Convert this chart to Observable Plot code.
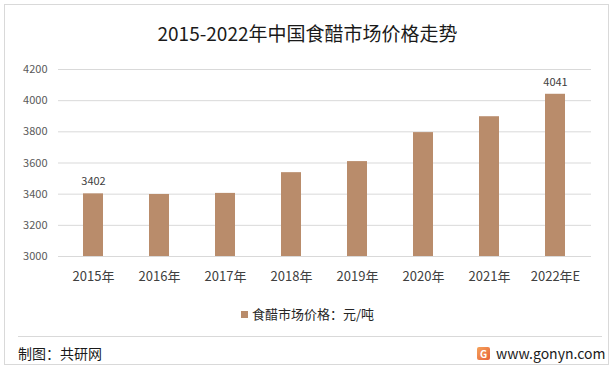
<!DOCTYPE html>
<html><head><meta charset="utf-8">
<script src="https://cdn.jsdelivr.net/npm/d3@7"></script>
<script src="https://cdn.jsdelivr.net/npm/@observablehq/plot@0.6"></script>
<style>
body{margin:0;background:#fff;font-family:"Noto Sans CJK SC","Noto Sans",sans-serif;}
#wrap{position:relative;width:615px;height:374px;overflow:hidden;background:#fff;}
#frame{position:absolute;left:4px;top:4px;width:605px;height:361px;border:1px solid #d9d9d9;box-sizing:border-box;}
#title{position:absolute;left:0;top:18px;width:615px;text-align:center;font-size:19px;color:#1a1a1a;line-height:30px;}
#chart{position:absolute;left:0;top:55px;}
#legend{position:absolute;left:0;top:304px;width:615px;text-align:center;font-size:13px;color:#262626;line-height:20px;}
#legend .sw{display:inline-block;width:7px;height:7px;background:#b98c6b;margin-right:4px;vertical-align:1px;}
#sep{position:absolute;left:18px;top:336px;width:584px;height:1px;background:#d9d9d9;}
#src{position:absolute;left:18px;top:343px;font-size:14px;color:#1a1a1a;line-height:20px;}
#site{position:absolute;left:477px;top:343px;font-size:14px;color:#1a1a1a;line-height:20px;display:flex;align-items:center;}
#logo{width:13px;height:13px;background:linear-gradient(135deg,#f5a25a,#e8633a);border-radius:2px;margin-right:6px;color:#fff;font-size:10px;font-weight:bold;text-align:center;line-height:13px;}
</style></head>
<body>
<div id="wrap">
  <div id="frame"></div>
  <div id="title">2015-2022年中国食醋市场价格走势</div>
  <div id="chart"></div>
  <div id="legend"><span class="sw"></span>食醋市场价格：元/吨</div>
  <div id="sep"></div>
  <div id="src">制图：共研网</div>
  <div id="site"><span id="logo">G</span>www.gonyn.com</div>
</div>
<script>
const years = ["2015年","2016年","2017年","2018年","2019年","2020年","2021年","2022年E"];
const prices = [3402, 3398, 3405, 3538, 3609, 3795, 3897, 4041];
const labelShown = [true, false, false, false, false, false, false, true];
const yTicks = [3000, 3200, 3400, 3600, 3800, 4000, 4200];

const data = years.map((y, i) => ({year: y, price: prices[i], show: labelShown[i]}));

const chart = Plot.plot({
  width: 615,
  height: 245,
  marginTop: 14,
  marginBottom: 44,
  marginLeft: 58,
  marginRight: 24,
  style: {fontFamily: '"Noto Sans CJK SC","Noto Sans",sans-serif', background: "transparent"},
  x: {domain: years, paddingInner: 0.69, paddingOuter: 0.345, label: null},
  y: {domain: [3000, 4200], label: null},
  marks: [
    Plot.ruleY(yTicks, {stroke: "#d9d9d9", strokeWidth: 1}),
    Plot.barY(data, {x: "year", y1: 3000, y2: "price", fill: "#b98c6b"}),
    Plot.text(data.filter(d => d.show), {x: "year", y: "price", text: d => String(d.price), dy: -12, fontSize: 11, fill: "#404040"}),
    Plot.axisY({ticks: yTicks, tickSize: 0, tickPadding: 11, fontSize: 11, fill: "#595959", label: null, tickFormat: d => String(d)}),
    Plot.axisX({tickSize: 0, tickPadding: 15, fontSize: 13, fill: "#404040", label: null})
  ]
});
document.getElementById("chart").appendChild(chart);
</script>
</body></html>
